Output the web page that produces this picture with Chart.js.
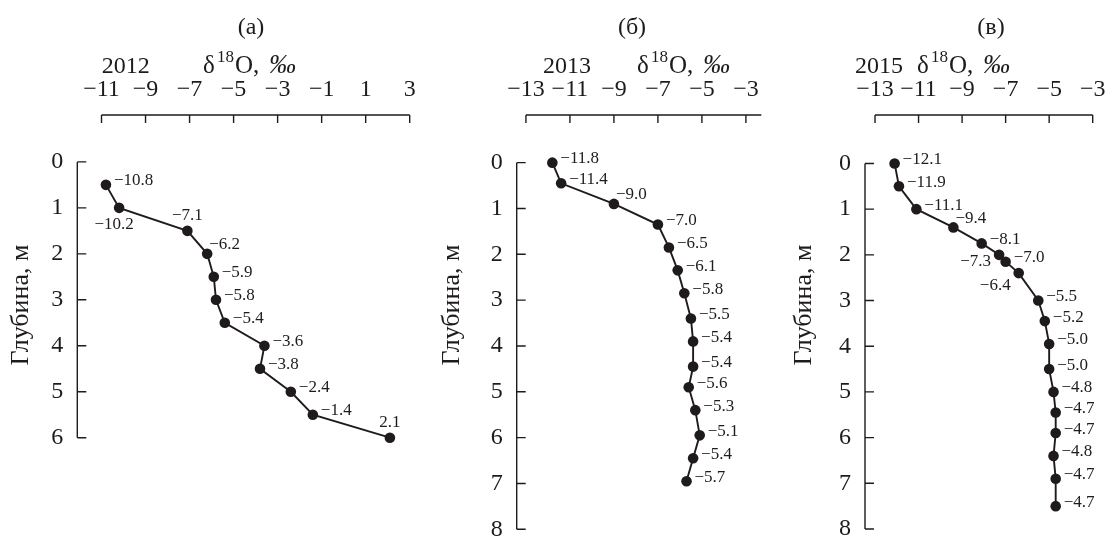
<!DOCTYPE html>
<html><head><meta charset="utf-8">
<script src="https://cdn.jsdelivr.net/npm/chart.js@4/dist/chart.umd.min.js"></script>
<style>
html,body{margin:0;padding:0;background:#fff;width:1110px;height:538px;overflow:hidden}
canvas{position:absolute;left:0;top:0}
</style></head>
<body>
<canvas id="ca" width="1110" height="538"></canvas>
<canvas id="cb" width="1110" height="538"></canvas>
<canvas id="cc" width="1110" height="538"></canvas>
<script>
// ---- data ----
const depthA = [0.5, 1.0, 1.5, 2.0, 2.5, 3.0, 3.5, 4.0, 4.5, 5.0, 5.5, 6.0];
const d18OA  = [-10.8, -10.2, -7.1, -6.2, -5.9, -5.8, -5.4, -3.6, -3.8, -2.4, -1.4, 2.1];
const depthB = [0, 0.45, 0.9, 1.35, 1.85, 2.35, 2.85, 3.4, 3.9, 4.45, 4.9, 5.4, 5.95, 6.45, 6.95];
const d18OB  = [-11.8, -11.4, -9.0, -7.0, -6.5, -6.1, -5.8, -5.5, -5.4, -5.4, -5.6, -5.3, -5.1, -5.4, -5.7];
const depthC = [0, 0.5, 1.0, 1.4, 1.75, 2.0, 2.15, 2.4, 3.0, 3.45, 3.95, 4.5, 5.0, 5.45, 5.9, 6.4, 6.9, 7.5];
const d18OC  = [-12.1, -11.9, -11.1, -9.4, -8.1, -7.3, -7.0, -6.4, -5.5, -5.2, -5.0, -5.0, -4.8, -4.7, -4.7, -4.8, -4.7, -4.7];
const xTicksA = [-11, -9, -7, -5, -3, -1, 1, 3];
const xTicksB = [-13, -11, -9, -7, -5, -3];
const xTicksC = [-13, -11, -9, -7, -5, -3];
const yTicksA = [0, 1, 2, 3, 4, 5, 6];
const yTicksB = [0, 1, 2, 3, 4, 5, 6, 7, 8];
const yTicksC = [0, 1, 2, 3, 4, 5, 6, 7, 8];
const panelTags = ['(а)', '(б)', '(в)'];
const years = ['2012', '2013', '2015'];
const yTitle = 'Глубина, м';

// ---- label placement (style) ----
const placeA = ['r','b','a','ar','r','r','r','r','r','r','r','a'];
const placeB = ['r','r','ar','r','r','r','r','r','r','r','r','r','r','r','r'];
const placeC = ['r','r','r','ar','r','l','r','bl','r','r','r','r','r','r','r','r','r','r'];

const INK = '#1f1b1c';
const FONT = '"Liberation Serif", "Times New Roman", serif';
const fmtVal = v => (v < 0 ? '\u2212' : '') + Math.abs(v).toFixed(1);
const fmtTick = v => (v < 0 ? '\u2212' : '') + Math.abs(v);

const panels = [
  { id:'ca', tag:panelTags[0], year:years[0], depth:depthA, vals:d18OA, place:placeA, xTicks:xTicksA, yTicks:yTicksA,
    xMin:-12.1, xMax:3, yMin:-1.02, area:{left:77.3, right:409.7, top:115, bottom:437.7},
    titleX:251, yearX:101.7, deltaX:203, ylabX:21 },
  { id:'cb', tag:panelTags[1], year:years[1], depth:depthB, vals:d18OB, place:placeB, xTicks:xTicksB, yTicks:yTicksB,
    xMin:-13.42, xMax:-2.3, yMin:-1.04, area:{left:516.7, right:761.3, top:115, bottom:529.3},
    titleX:632, yearX:543, deltaX:637, ylabX:452 },
  { id:'cc', tag:panelTags[2], year:years[2], depth:depthC, vals:d18OC, place:placeC, xTicks:xTicksC, yTicks:yTicksC,
    xMin:-13.46, xMax:-3, yMin:-1.06, area:{left:865, right:1092.7, top:115, bottom:529},
    titleX:991, yearX:855, deltaX:917, ylabX:804 }
];

const decor = {
  id: 'decor',
  afterDatasetsDraw(chart, args, o) {
    const ctx = chart.ctx, xs = chart.scales.x, ys = chart.scales.y, ca = chart.chartArea;
    ctx.save();
    ctx.strokeStyle = INK; ctx.lineWidth = 1.4;
    ctx.beginPath();
    const yTop = ca.top;
    ctx.moveTo(xs.getPixelForValue(o.xTicks[0]), yTop);
    ctx.lineTo(xs.getPixelForValue(o.xMax), yTop);
    o.xTicks.forEach(v => { const p = xs.getPixelForValue(v); ctx.moveTo(p, yTop); ctx.lineTo(p, yTop + 8); });
    const xl = ca.left;
    ctx.moveTo(xl, ys.getPixelForValue(o.yTicks[0]));
    ctx.lineTo(xl, ys.getPixelForValue(o.yTicks[o.yTicks.length - 1]));
    o.yTicks.forEach(v => { const p = ys.getPixelForValue(v); ctx.moveTo(xl, p); ctx.lineTo(xl + 9, p); });
    ctx.stroke();

    // data labels
    const meta = chart.getDatasetMeta(0);
    ctx.fillStyle = INK;
    ctx.font = '17px ' + FONT;
    ctx.textBaseline = 'middle';
    meta.data.forEach((pt, i) => {
      const t = fmtVal(o.vals[i]);
      const c = o.place[i];
      let x = pt.x, y = pt.y;
      if (c === 'r') { ctx.textAlign = 'left'; x += 8; y -= 4; }
      else if (c === 'ar') { ctx.textAlign = 'left'; x += 2; y -= 9; }
      else if (c === 'a') { ctx.textAlign = 'center'; y -= 15; }
      else if (c === 'b') { ctx.textAlign = 'center'; x -= 5; y += 17; }
      else if (c === 'bl') { ctx.textAlign = 'right'; x -= 8; y += 12; }
      else if (c === 'l') { ctx.textAlign = 'right'; x -= 8; y += 7; }
      ctx.fillText(t, x, y);
    });

    // titles
    ctx.textBaseline = 'alphabetic';
    ctx.textAlign = 'center';
    ctx.font = '24px ' + FONT;
    ctx.fillText(o.tag, o.titleX, 34);
    ctx.textAlign = 'left';
    ctx.font = '24px ' + FONT;
    ctx.fillText(o.year, o.yearX, 73);
    const x0 = o.deltaX;
    ctx.font = '25px ' + FONT;
    ctx.fillText('δ', x0, 73);
    ctx.font = '17px ' + FONT;
    ctx.fillText('18', x0 + 14, 62);
    ctx.font = '25px ' + FONT;
    ctx.fillText('O,', x0 + 32, 73);
    ctx.font = 'italic 27px ' + FONT;
    ctx.fillText('‰', x0 + 66, 73);

    // y axis title
    ctx.font = '26px ' + FONT;
    ctx.translate(o.ylabX, 305);
    ctx.rotate(-Math.PI / 2);
    ctx.textAlign = 'center';
    ctx.textBaseline = 'middle';
    ctx.fillText(yTitle, 0, 0);
    ctx.restore();
  }
};

panels.forEach(P => {
  const W = 60, H = 60;
  new Chart(document.getElementById(P.id), {
    type: 'scatter',
    data: { datasets: [{
      data: P.vals.map((v, i) => ({ x: v, y: P.depth[i] })),
      showLine: true, borderColor: INK, borderWidth: 1.9,
      pointRadius: 5.3, pointBackgroundColor: INK, pointBorderWidth: 0,
      clip: false
    }]},
    options: {
      responsive: false, animation: false, devicePixelRatio: 1,
      layout: { padding: { left: P.area.left - W, top: P.area.top - H, right: 1110 - P.area.right, bottom: 538 - P.area.bottom } },
      plugins: { legend: { display: false }, tooltip: { enabled: false },
        decor: { vals: P.vals, place: P.place, xTicks: P.xTicks, yTicks: P.yTicks, xMax: P.xMax,
                 tag: P.tag, year: P.year, titleX: P.titleX, yearX: P.yearX, deltaX: P.deltaX, ylabX: P.ylabX } },
      scales: {
        x: { type: 'linear', position: 'top', min: P.xMin, max: P.xMax,
             grid: { display: false, drawTicks: false }, border: { display: false },
             afterBuildTicks: s => { s.ticks = P.xTicks.map(v => ({ value: v })); },
             afterFit: s => { s.height = H; s.paddingLeft = 0; s.paddingRight = 0; },
             ticks: { autoSkip: false, maxRotation: 0, padding: 11, color: INK, font: { family: FONT, size: 24 }, callback: v => fmtTick(v) } },
        y: { type: 'linear', reverse: true, min: P.yMin, max: P.yTicks[P.yTicks.length - 1],
             grid: { display: false, drawTicks: false }, border: { display: false },
             afterBuildTicks: s => { s.ticks = P.yTicks.map(v => ({ value: v })); },
             afterFit: s => { s.width = W; s.paddingTop = 0; s.paddingBottom = 0; },
             ticks: { autoSkip: false, padding: 14, color: INK, font: { family: FONT, size: 24 }, callback: v => String(v) } }
      }
    },
    plugins: [decor]
  });
});
</script>
</body></html>
